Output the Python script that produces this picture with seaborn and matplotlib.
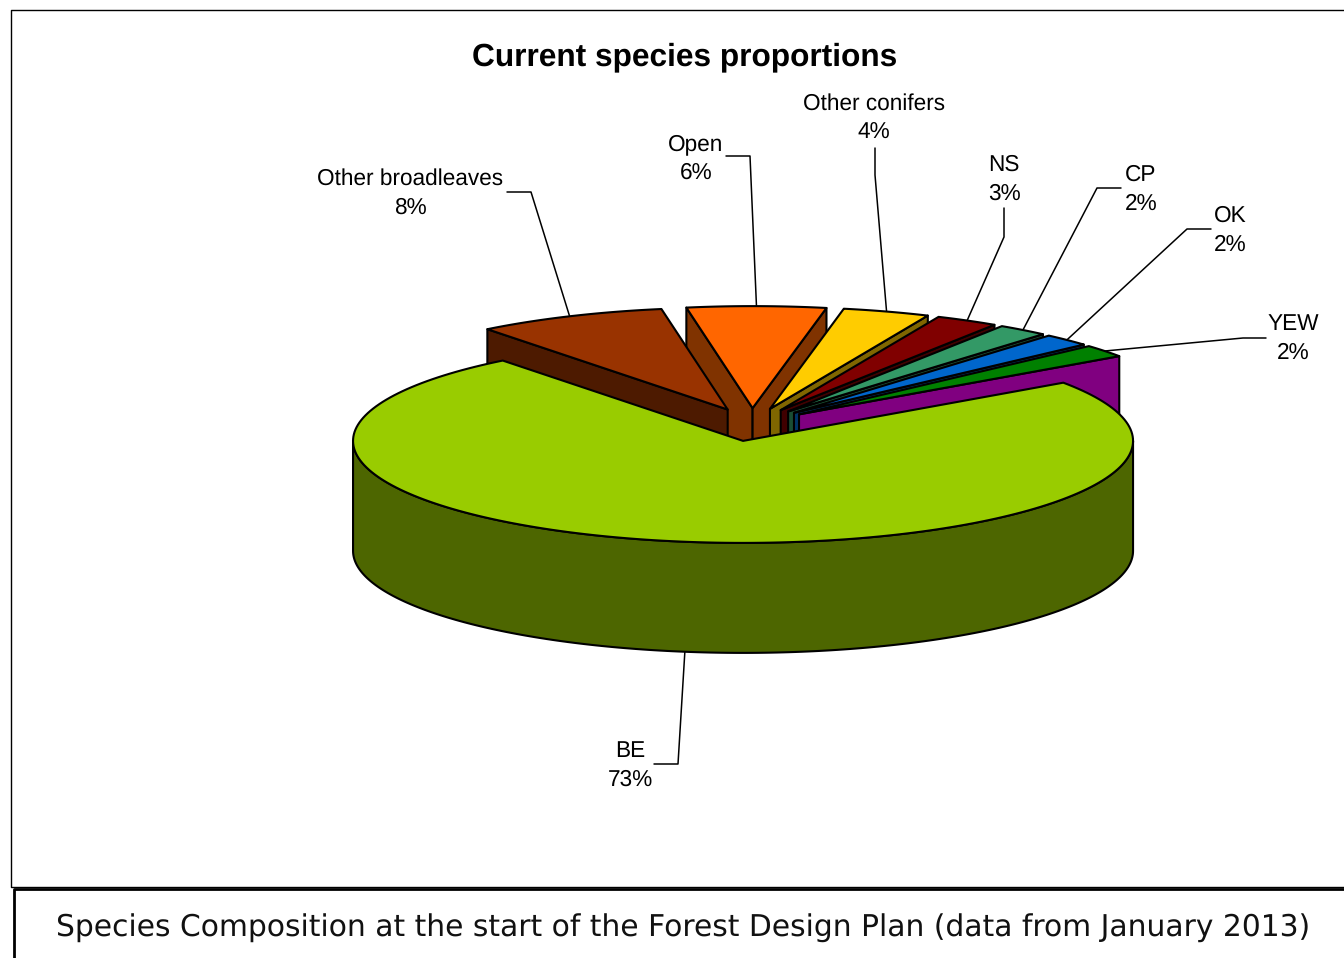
import numpy as np
import pandas as pd
import matplotlib
matplotlib.use("Agg")
import matplotlib.pyplot as plt
from matplotlib.patches import Polygon
import seaborn as sns

# data (angles in the picture are not quite the printed percentages)
species = ['BE', 'Other broadleaves', 'Open', 'Other conifers', 'NS', 'CP', 'OK', 'YEW']
shares = [74.1, 7.85, 5.75, 3.6, 2.6, 2.1, 2.0, 2.0]
pct_labels = ['73%', '8%', '6%', '4%', '3%', '2%', '2%', '2%']
top_colors = ['#99CC00', '#993300', '#FF6600', '#FFCC00', '#800000', '#339966', '#0066CC', '#008000']
wall_colors = ['#4D6600', '#4D1A00', '#803300', '#806600', '#400000', '#1A4D33', '#003366', '#800080']

# layout, pixels of the final image
label_xy = [(630, 751), (410, 179), (696, 144), (874, 104), (1004, 165), (1141, 175), (1230, 216), (1293, 324)]
leader_start = [(654, 764), (507, 192), (726, 156), (875, 148), (1004, 208), (1121, 188), (1211, 229), (1266, 338)]
leader_elbow = [(678, 764), (531, 192), (750, 156), (875, 175), (1004, 237), (1097, 188), (1187, 229), (1243, 338)]

CX, CY = 752.0, 424.6
RX, RY = 390, 102
DEPTH = 110
EXPLODE = 60
START = 55.2

sns.set_theme(style='white')
plt.rcParams['font.family'] = ['Liberation Sans', 'DejaVu Sans']
plt.rcParams['text.hinting'] = 'no_hinting'

fig, ax = plt.subplots(figsize=(13.44, 9.58), dpi=100)
ax.set_position([0, 0, 1, 1])
ax.axis('off')


def rim(cx, cy, theta):
    t = np.radians(theta)
    return cx + RX * np.sin(t), cy - RY * np.cos(t)


# work out the angles of each slice
slices = []
angle = START
for i, s in enumerate(shares):
    a0, a1 = angle, angle + s * 3.6
    angle = a1
    mid = (a0 + a1) / 2
    cx, cy = rim(CX, CY, mid)
    cx = CX + (cx - CX) * EXPLODE / RX
    cy = CY + (cy - CY) * (EXPLODE + 3) / RX
    slices.append(dict(i=i, a0=a0, a1=a1, mid=mid, cx=cx, cy=cy))

# paint from the back of the pie to the front
back_dist = lambda d: abs((d['mid'] + 180) % 360 - 180)
z = 2
for d in sorted(slices, key=back_dist):
    i = d['i']
    cx, cy = d['cx'], d['cy']
    line = dict(edgecolor='black', linewidth=1.5, joinstyle='round')
    # side walls that face the viewer
    for th, visible in [(d['a0'], np.sin(np.radians(d['a0'])) < 0), (d['a1'], np.sin(np.radians(d['a1'])) > 0)]:
        if visible and i != 0:
            x, y = rim(cx, cy, th)
            pts = [(cx, cy), (x, y), (x, y + DEPTH), (cx, cy + DEPTH)]
            ax.add_patch(Polygon(pts, facecolor=wall_colors[i], zorder=z, **line))
            z += 1
    # outer wall of the big slice
    if i == 0:
        ths = np.linspace(90, 270, 200)
        x, y = rim(cx, cy, ths)
        pts = np.r_[np.c_[x, y], np.c_[x, y + DEPTH][::-1]]
        ax.add_patch(Polygon(pts, facecolor=wall_colors[i], zorder=z, **line))
        z += 1
    ths = np.linspace(d['a0'], d['a1'], 200)
    x, y = rim(cx, cy, ths)
    pts = np.r_[[(cx, cy)], np.c_[x, y]]
    ax.add_patch(Polygon(pts, facecolor=top_colors[i], zorder=z, **line))
    z += 1

# labels and leader lines
for d in slices:
    i = d['i']
    x, y = rim(d['cx'], d['cy'], d['mid'])
    if np.cos(np.radians(d['mid'])) < 0:
        y += DEPTH
    sx, sy = leader_start[i]
    ex, ey = leader_elbow[i]
    sns.lineplot(x=[sx, ex, x], y=[sy, ey, y], sort=False, estimator=None,
                 color='black', linewidth=1.1, ax=ax, zorder=1)
    lx, ly = label_xy[i]
    ax.text(lx, ly, species[i], ha='center', va='center', fontsize=16.3, color='black')
    ax.text(lx, ly + 29, pct_labels[i], ha='center', va='center', fontsize=16.3, color='black')

ax.text(685, 57, 'Current species proportions', ha='center', va='center',
        fontsize=22.8, fontweight='bold', color='black')

# chart frame and caption box
sns.lineplot(x=[1344, 10.5, 10.5, 1344], y=[9.5, 9.5, 887, 887], sort=False, estimator=None,
             color='black', linewidth=1, ax=ax)
sns.lineplot(x=[13.5, 13.5, 1344], y=[958, 888.5, 888.5], sort=False, estimator=None,
             color='black', linewidth=2, ax=ax)
ax.text(683.5, 928, 'Species Composition at the start of the Forest Design Plan (data from January 2013)',
        ha='center', va='center', fontsize=21.4, color='#111111', family=['DejaVu Sans'])

ax.set_xlim(0, 1344)
ax.set_ylim(958, 0)
fig.savefig('out.png', dpi=100)
